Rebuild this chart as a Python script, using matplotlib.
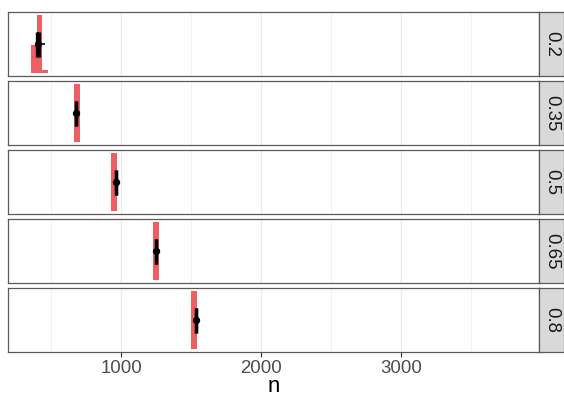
import matplotlib
matplotlib.use("Agg")
import matplotlib.pyplot as plt
from matplotlib.ticker import FixedLocator

# ---- data ----
facets = ["0.2", "0.35", "0.5", "0.65", "0.8"]
bin_width = 41
bin_starts = [[357, 398, 439], [664], [930], [1228], [1500]]
bin_heights = [[0.48, 1.0, 0.06], [1.0], [1.0], [1.0], [1.0]]   # normalised counts
point_x = [407, 675, 961, 1248, 1534]
range_lo = [399, 675, 961, 1248, 1534]     # thick vertical range, left edge
range_hi = [416, 675, 961, 1248, 1534]     # thick vertical range, right edge
hrange_lo = [386, 675, 961, 1248, 1534]    # thin horizontal range
hrange_hi = [457, 675, 961, 1248, 1534]
y_point = 0.5
y_lo = 0.28
y_hi = 0.72
major_ticks = [1000, 2000, 3000]
minor_ticks = [500, 1500, 2500, 3500]
xlim = (189, 3988)
xlabel = "n"

W, H = 564, 397
dpi = 100
fig = plt.figure(figsize=(W / dpi, H / dpi), dpi=dpi)
plt.rcParams["font.family"] = ["Liberation Sans", "DejaVu Sans"]

red = "#EE5E62"
border = "#5A5A5A"
left_px, right_px = 7.5, 539.3
strip_w = 24.2
top_px = 12.3
panel_h = 64.0
gap = 5.0

for i, lab in enumerate(facets):
    t = top_px + i * (panel_h + gap)
    b = t + panel_h
    ax = fig.add_axes([left_px / W, 1 - b / H, (right_px - left_px) / W, panel_h / H])
    ax.set_xlim(*xlim)
    ax.set_ylim(-0.05, 1.05)
    ax.xaxis.set_major_locator(FixedLocator(major_ticks))
    ax.xaxis.set_minor_locator(FixedLocator(minor_ticks))
    ax.grid(which="major", axis="x", color="#EBEBEB", lw=0.9, zorder=0)
    ax.grid(which="minor", axis="x", color="#EBEBEB", lw=0.5, zorder=0)
    ax.set_axisbelow(True)
    ax.set_yticks([])
    for s in ax.spines.values():
        s.set_color(border)
        s.set_linewidth(0.9)

    ax.bar(bin_starts[i], bin_heights[i], width=bin_width, align="edge",
           color=red, linewidth=0, zorder=2)

    # ranges
    ax.fill_betweenx([y_lo, y_hi], range_lo[i], range_hi[i], color="black", lw=0, zorder=3)
    ax.vlines([range_lo[i], range_hi[i]], y_lo, y_hi, color="black", lw=2.4, zorder=3)
    ax.hlines(y_point, hrange_lo[i], hrange_hi[i], color="black", lw=1.2, zorder=3)
    ax.plot([point_x[i]], [y_point], "o", color="black", ms=4.3, zorder=4)

    if i < len(facets) - 1:
        ax.tick_params(axis="x", which="both", bottom=False, labelbottom=False)
    else:
        ax.tick_params(axis="x", which="major", length=3.5, width=0.8, color="#333333",
                       labelsize=13.4, labelcolor="#4D4D4D", pad=2)
        ax.tick_params(axis="x", which="minor", length=0)
        xc = (left_px + right_px) / 2 / W
        fig.text(xc, 1 - 392.5 / H, xlabel, fontsize=16, color="black",
                 ha="center", va="baseline")

    sax = fig.add_axes([right_px / W, 1 - b / H, strip_w / W, panel_h / H])
    sax.set_facecolor("#D9D9D9")
    sax.set_xticks([])
    sax.set_yticks([])
    for s in sax.spines.values():
        s.set_color(border)
        s.set_linewidth(0.9)
    sax.text(0.5, 0.5, lab, rotation=270, ha="center", va="center",
             fontsize=13.4, color="#1A1A1A", transform=sax.transAxes)

fig.savefig("out.png", dpi=dpi)
